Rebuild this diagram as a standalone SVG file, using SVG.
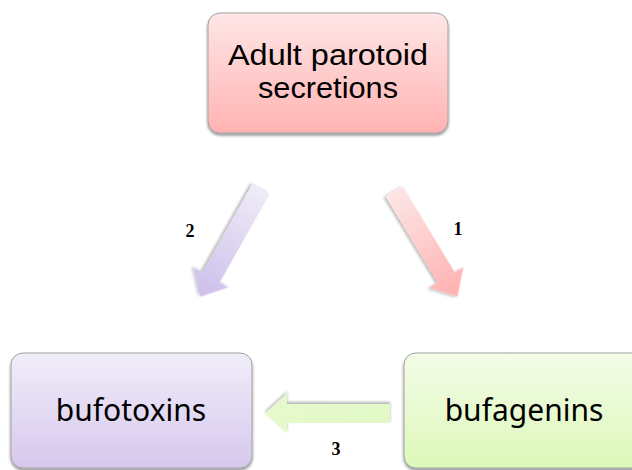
<svg xmlns="http://www.w3.org/2000/svg" width="632" height="470" viewBox="0 0 632 470">
  <defs>
    <linearGradient id="gPink" x1="0" y1="0" x2="0" y2="1">
      <stop offset="0" stop-color="#ffe6e6"/>
      <stop offset="1" stop-color="#ffb3b3"/>
    </linearGradient>
    <linearGradient id="gLav" x1="0" y1="0" x2="0" y2="1">
      <stop offset="0" stop-color="#f1edf9"/>
      <stop offset="1" stop-color="#d6c8ee"/>
    </linearGradient>
    <linearGradient id="gGreen" x1="0" y1="0" x2="0" y2="1">
      <stop offset="0" stop-color="#f3fce8"/>
      <stop offset="1" stop-color="#ddf8b9"/>
    </linearGradient>
    <linearGradient id="aPink" x1="0" y1="0" x2="1" y2="0">
      <stop offset="0" stop-color="#fde6e6"/>
      <stop offset="1" stop-color="#ffb0b0"/>
    </linearGradient>
    <linearGradient id="aLav" x1="0" y1="0" x2="1" y2="0">
      <stop offset="0" stop-color="#efebf8"/>
      <stop offset="1" stop-color="#cdbfea"/>
    </linearGradient>
    <linearGradient id="aGreen" x1="0" y1="0" x2="1" y2="0">
      <stop offset="0" stop-color="#e2f8c6"/>
      <stop offset="1" stop-color="#e6f9cd"/>
    </linearGradient>
    <filter id="shadow" x="-10%" y="-10%" width="120%" height="130%">
      <feGaussianBlur in="SourceAlpha" stdDeviation="1.5"/>
      <feOffset dx="0" dy="2" result="b"/>
      <feComponentTransfer><feFuncA type="linear" slope="0.45"/></feComponentTransfer>
      <feMerge><feMergeNode/><feMergeNode in="SourceGraphic"/></feMerge>
    </filter>
    <filter id="ashadow" x="-20%" y="-30%" width="140%" height="160%">
      <feGaussianBlur in="SourceAlpha" stdDeviation="1.5"/>
      <feOffset dx="0" dy="2" result="b"/>
      <feComponentTransfer><feFuncA type="linear" slope="0.3"/></feComponentTransfer>
      <feMerge><feMergeNode/><feMergeNode in="SourceGraphic"/></feMerge>
    </filter>
  </defs>
  <style>
    .box { stroke: #a3a3a3; stroke-width: 1; filter: url(#shadow); }
    .lbl { font-family: "Noto Sans", "Open Sans", sans-serif; font-size: 30px; fill: #000; text-anchor: middle; }
    .top { font-family: "Liberation Sans", Arial, sans-serif; font-size: 29.5px; fill: #000; text-anchor: middle; }
    .num { font-family: "Liberation Serif", "Times New Roman", serif; font-weight: bold; font-size: 18px; fill: #000; text-anchor: middle; }
    .arr { filter: url(#ashadow); }
  </style>
  <rect width="632" height="470" fill="#ffffff"/>

  <g id="connectors">
    <g id="arrow1">
      <polygon class="arr" fill="url(#aPink)" transform="translate(394,191) rotate(58.9)" points="0,-10 101,-10 101,-20 123,0 101,20 101,10 0,10"/>
      <text class="num" x="458" y="235">1</text>
    </g>
    <g id="arrow2">
      <polygon class="arr" fill="url(#aLav)" transform="translate(260.7,189.5) rotate(119.45)" points="0,-10 101,-10 101,-20 123,0 101,20 101,10 0,10"/>
      <text class="num" x="190" y="237">2</text>
    </g>
    <g id="arrow3">
      <polygon class="arr" fill="url(#aGreen)" transform="translate(390,413.5) rotate(180)" points="0,-9.5 103,-9.5 103,-20 125,0 103,20 103,9.5 0,9.5"/>
      <text class="num" x="336" y="455">3</text>
    </g>
  </g>

  <g id="node-adult">
    <rect class="box" x="208" y="13" width="240" height="120" rx="12" fill="url(#gPink)"/>
    <text class="top" x="328" y="65" textLength="200" lengthAdjust="spacingAndGlyphs">Adult parotoid</text>
    <text class="top" x="328" y="98" textLength="140" lengthAdjust="spacingAndGlyphs">secretions</text>
  </g>
  <g id="node-bufotoxins">
    <rect class="box" x="11" y="353" width="241" height="115" rx="12" fill="url(#gLav)"/>
    <text class="lbl" x="131" y="421">bufotoxins</text>
  </g>
  <g id="node-bufagenins">
    <rect class="box" x="404" y="353" width="240" height="115" rx="12" fill="url(#gGreen)"/>
    <text class="lbl" x="524" y="421">bufagenins</text>
  </g>
</svg>
